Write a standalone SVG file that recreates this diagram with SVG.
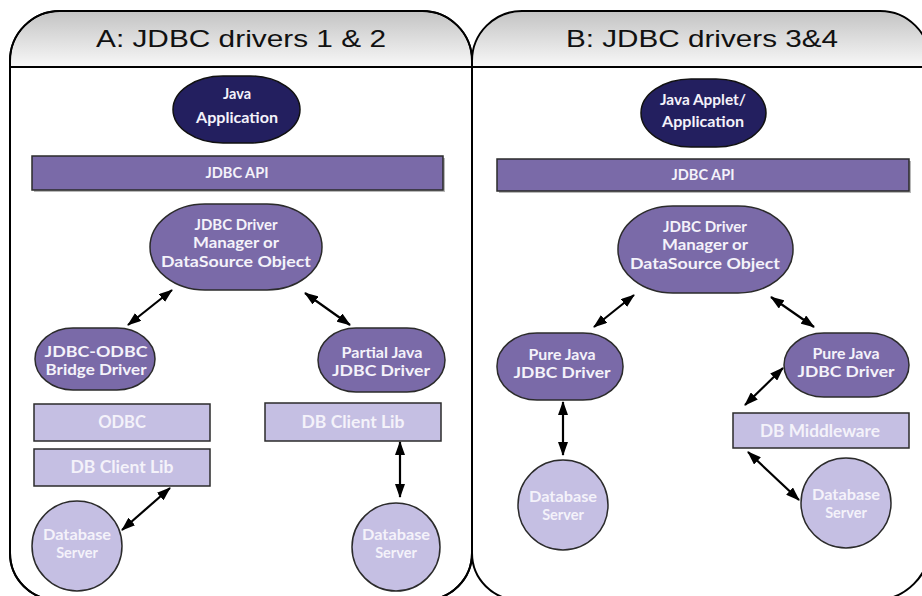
<svg xmlns="http://www.w3.org/2000/svg" width="922" height="596" viewBox="0 0 922 596">
  <defs>
    <linearGradient id="hdr" x1="0" y1="0" x2="0" y2="1">
      <stop offset="0" stop-color="#c4c4c4"/>
      <stop offset="1" stop-color="#f8f8f8"/>
    </linearGradient>
    <marker id="ah" viewBox="0 0 14 10" refX="13" refY="5" markerWidth="14" markerHeight="10" markerUnits="userSpaceOnUse" orient="auto-start-reverse">
      <path d="M0,0 L14,5 L0,10 Z" fill="#000"/>
    </marker>
  </defs>
  <style>
    .frame { fill: #fff; stroke: #000; stroke-width: 2; }
    .head { fill: url(#hdr); stroke: none; }
    .rule { stroke: #000; stroke-width: 1.8; fill: none; }
    .title { font-family: "Liberation Sans", Arial, sans-serif; font-size: 24.5px; fill: #111; text-anchor: middle; }
    .navy { fill: #231f5f; stroke: #111; stroke-width: 1.5; }
    .mid { fill: #7a6aa8; stroke: #2b2b2b; stroke-width: 1.5; }
    .light { fill: #c5bfe3; stroke: #2b2b2b; stroke-width: 1.5; }
    .shadow { fill: #b8b8b8; }
    .lbl { font-family: Lato, "Open Sans", "DejaVu Sans", sans-serif; font-weight: bold; fill: #f4f2fa; text-anchor: middle; }
    .two { font-size: 14.5px; }
    .one { font-size: 16.5px; }
    .conn line { stroke: #000; stroke-width: 2.2; marker-start: url(#ah); marker-end: url(#ah); }
  </style>

  <!-- panel frames -->
  <g id="panelA">
    <path class="frame" d="M10,61 A50,50 0 0 1 60,11 H422 A50,50 0 0 1 472,61 V553 A47,47 0 0 1 425,600 H57 A47,47 0 0 1 10,553 Z"/>
    <path class="head" d="M11,67 V61 A49,49 0 0 1 60,12 H422 A49,49 0 0 1 471,61 V67 Z"/>
    <path class="frame" style="fill:none" d="M10,61 A50,50 0 0 1 60,11 H422 A50,50 0 0 1 472,61 V553 A47,47 0 0 1 425,600 H57 A47,47 0 0 1 10,553 Z"/>
    <line class="rule" x1="10" y1="67" x2="472" y2="67"/>
    <text class="title" x="241" y="47" textLength="290" lengthAdjust="spacingAndGlyphs">A: JDBC drivers 1 &amp; 2</text>
  </g>
  <g id="panelB">
    <path class="head" d="M473,67 V61 A49,49 0 0 1 522,12 H880 A49,49 0 0 1 929,61 V67 Z"/>
    <path class="frame" style="fill:none" d="M472,61 A50,50 0 0 1 522,11 H880 A50,50 0 0 1 930,61 V545 A55,55 0 0 1 875,600 H519 A47,47 0 0 1 472,553 Z"/>
    <line class="rule" x1="472" y1="67" x2="930" y2="67"/>
    <text class="title" x="702" y="47" textLength="272" lengthAdjust="spacingAndGlyphs">B: JDBC drivers 3&amp;4</text>
  </g>

  <!-- panel A nodes -->
  <g id="a-java-app">
    <rect class="navy" x="173" y="76" width="127" height="67" rx="50" ry="33.5"/>
    <text class="lbl two" x="237" y="99">Java</text>
    <text class="lbl two" x="237" y="123" textLength="82" lengthAdjust="spacingAndGlyphs">Application</text>
  </g>
  <g id="a-jdbc-api">
    <rect class="shadow" x="34" y="158" width="411" height="34"/>
    <rect class="mid" x="32" y="156" width="411" height="34"/>
    <text class="lbl" font-size="15" x="237" y="178" textLength="63" lengthAdjust="spacingAndGlyphs">JDBC API</text>
  </g>
  <g id="a-manager">
    <rect class="mid" x="150" y="204" width="172" height="86" rx="55" ry="43"/>
    <text class="lbl two" x="236" y="230" textLength="83" lengthAdjust="spacingAndGlyphs">JDBC Driver</text>
    <text class="lbl two" x="236" y="248" textLength="86" lengthAdjust="spacingAndGlyphs">Manager or</text>
    <text class="lbl two" x="236" y="267" textLength="150" lengthAdjust="spacingAndGlyphs">DataSource Object</text>
  </g>
  <g id="a-bridge">
    <rect class="mid" x="35" y="328" width="120" height="62" rx="38" ry="31"/>
    <text class="lbl two" x="96" y="357" textLength="103" lengthAdjust="spacingAndGlyphs">JDBC-ODBC</text>
    <text class="lbl two" x="96" y="375" textLength="101" lengthAdjust="spacingAndGlyphs">Bridge Driver</text>
  </g>
  <g id="a-partial">
    <rect class="mid" x="318" y="328" width="127" height="64" rx="38" ry="32"/>
    <text class="lbl two" x="382" y="358" textLength="81" lengthAdjust="spacingAndGlyphs">Partial Java</text>
    <text class="lbl two" x="381" y="376" textLength="98" lengthAdjust="spacingAndGlyphs">JDBC Driver</text>
  </g>
  <g id="a-odbc">
    <rect class="light" x="34" y="404" width="176" height="37"/>
    <text class="lbl one" x="122" y="428">ODBC</text>
  </g>
  <g id="a-client-lib-1">
    <rect class="light" x="34" y="449" width="176" height="37"/>
    <text class="lbl one" x="122" y="473" textLength="103" lengthAdjust="spacingAndGlyphs">DB Client Lib</text>
  </g>
  <g id="a-client-lib-2">
    <rect class="light" x="265" y="403" width="176" height="38"/>
    <text class="lbl one" x="353" y="428" textLength="103" lengthAdjust="spacingAndGlyphs">DB Client Lib</text>
  </g>
  <g id="a-db-1">
    <circle class="light" cx="77" cy="546" r="45"/>
    <text class="lbl two" x="77" y="540" textLength="68" lengthAdjust="spacingAndGlyphs">Database</text>
    <text class="lbl two" x="77" y="558">Server</text>
  </g>
  <g id="a-db-2">
    <circle class="light" cx="396" cy="547" r="44"/>
    <text class="lbl two" x="396" y="540" textLength="68" lengthAdjust="spacingAndGlyphs">Database</text>
    <text class="lbl two" x="396" y="558">Server</text>
  </g>

  <!-- panel B nodes -->
  <g id="b-java-app">
    <rect class="navy" x="641" y="79" width="125" height="68" rx="50" ry="34"/>
    <text class="lbl two" x="703" y="105" textLength="86" lengthAdjust="spacingAndGlyphs">Java Applet/</text>
    <text class="lbl two" x="703" y="127" textLength="82" lengthAdjust="spacingAndGlyphs">Application</text>
  </g>
  <g id="b-jdbc-api">
    <rect class="shadow" x="499" y="161" width="412" height="32"/>
    <rect class="mid" x="497" y="159" width="412" height="32"/>
    <text class="lbl" font-size="15" x="703" y="180" textLength="63" lengthAdjust="spacingAndGlyphs">JDBC API</text>
  </g>
  <g id="b-manager">
    <rect class="mid" x="618" y="206" width="175" height="87" rx="55" ry="43"/>
    <text class="lbl two" x="705" y="232" textLength="84" lengthAdjust="spacingAndGlyphs">JDBC Driver</text>
    <text class="lbl two" x="705" y="250" textLength="86" lengthAdjust="spacingAndGlyphs">Manager or</text>
    <text class="lbl two" x="705" y="269" textLength="150" lengthAdjust="spacingAndGlyphs">DataSource Object</text>
  </g>
  <g id="b-pure-1">
    <rect class="mid" x="497" y="333" width="126" height="67" rx="40" ry="33"/>
    <text class="lbl two" x="562" y="360" textLength="67" lengthAdjust="spacingAndGlyphs">Pure Java</text>
    <text class="lbl two" x="562" y="378" textLength="97" lengthAdjust="spacingAndGlyphs">JDBC Driver</text>
  </g>
  <g id="b-pure-2">
    <rect class="mid" x="784" y="333" width="125" height="64" rx="40" ry="32"/>
    <text class="lbl two" x="846" y="359" textLength="67" lengthAdjust="spacingAndGlyphs">Pure Java</text>
    <text class="lbl two" x="846" y="377" textLength="97" lengthAdjust="spacingAndGlyphs">JDBC Driver</text>
  </g>
  <g id="b-middleware">
    <rect class="light" x="733" y="413" width="176" height="35"/>
    <text class="lbl one" x="820" y="437" textLength="120" lengthAdjust="spacingAndGlyphs">DB Middleware</text>
  </g>
  <g id="b-db-1">
    <circle class="light" cx="563" cy="505" r="45"/>
    <text class="lbl two" x="563" y="502" textLength="68" lengthAdjust="spacingAndGlyphs">Database</text>
    <text class="lbl two" x="563" y="520">Server</text>
  </g>
  <g id="b-db-2">
    <circle class="light" cx="846" cy="503" r="45"/>
    <text class="lbl two" x="846" y="500" textLength="68" lengthAdjust="spacingAndGlyphs">Database</text>
    <text class="lbl two" x="846" y="518">Server</text>
  </g>

  <!-- two-way connectors -->
  <g id="connectors" class="conn">
    <line x1="172" y1="290" x2="128" y2="325"/>
    <line x1="305" y1="293" x2="350" y2="325"/>
    <line x1="170" y1="488" x2="122" y2="530"/>
    <line x1="400" y1="442" x2="400" y2="497"/>
    <line x1="634" y1="295" x2="594" y2="327"/>
    <line x1="771" y1="297" x2="814" y2="327"/>
    <line x1="783" y1="368" x2="745" y2="405"/>
    <line x1="563" y1="402" x2="563" y2="455"/>
    <line x1="748" y1="452" x2="799" y2="500"/>
  </g>
</svg>
